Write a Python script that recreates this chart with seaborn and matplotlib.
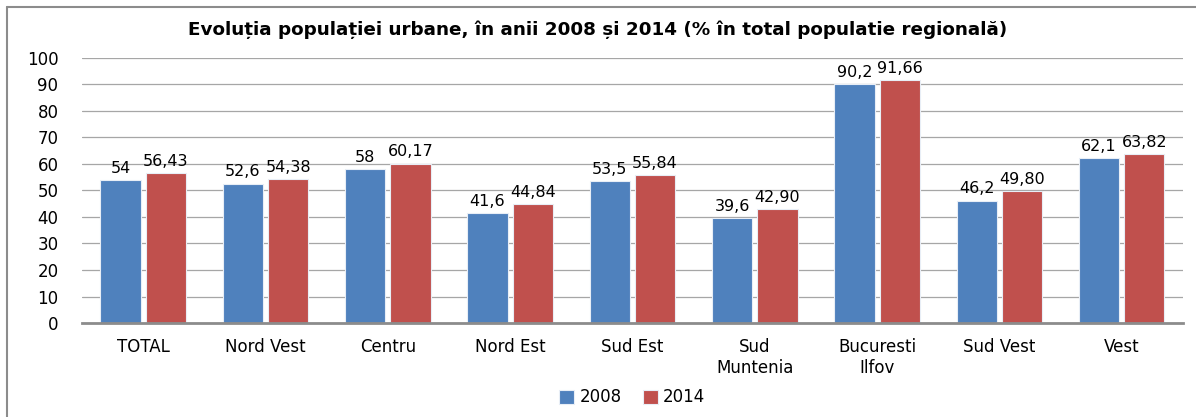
import pandas as pd
import matplotlib.pyplot as plt
import seaborn as sns
from matplotlib.lines import Line2D

regions = ["TOTAL", "Nord Vest", "Centru", "Nord Est", "Sud Est",
           "Sud\nMuntenia", "Bucuresti\nIlfov", "Sud Vest", "Vest"]
val_2008 = [54, 52.6, 58, 41.6, 53.5, 39.6, 90.2, 46.2, 62.1]
val_2014 = [56.43, 54.38, 60.17, 44.84, 55.84, 42.90, 91.66, 49.80, 63.82]
years = ["2008", "2014"]

df = pd.DataFrame({
    "Regiune": regions * 2,
    "An": [years[0]] * len(regions) + [years[1]] * len(regions),
    "Valoare": val_2008 + val_2014,
})

sns.set_style("white")
plt.rcParams["font.family"] = ["DejaVu Sans"]

fig = plt.figure(figsize=(11.96, 4.17), dpi=100)
ax = fig.add_axes([0.0686, 0.2254, 0.9204, 0.6356])

sns.barplot(
    data=df, x="Regiune", y="Valoare", hue="An",
    palette=["#4F81BD", "#C0504D"], saturation=1, width=0.74, gap=0.11,
    edgecolor="#e8eef6", linewidth=0.8, ax=ax, legend=True
)

# value labels
for cont, fmt in zip(ax.containers, ["g", ".2f"]):
    labels = [format(v, fmt).replace(".", ",") for v in cont.datavalues]
    ax.bar_label(cont, labels=labels, padding=3, fontsize=11.5, color="black")

ax.set_ylim(0, 100)
ax.set_yticks(range(0, 101, 10))
ax.set_xlim(-0.5, len(regions) - 0.5)
ax.yaxis.grid(True, color="#a6a6a6", linewidth=0.9)
ax.set_axisbelow(True)
for s in ["left", "right", "top"]:
    ax.spines[s].set_visible(False)
ax.spines["bottom"].set_color("#8c8c8c")
ax.spines["bottom"].set_linewidth(2)
ax.tick_params(axis="both", length=0, labelsize=12, colors="black")
ax.tick_params(axis="x", pad=11)
ax.tick_params(axis="y", pad=17)
ax.set_xlabel("")
ax.set_ylabel("")

leg = ax.legend(loc="upper center", bbox_to_anchor=(0.5, -0.19), ncol=2,
                frameon=False, fontsize=12, handlelength=0.9, handleheight=0.9,
                columnspacing=1.3, handletextpad=0.3, labelcolor="black")

fig.text(0.5, 0.928, "Evoluția populației urbane, în anii 2008 și 2014 (% în total populatie regională)",
         ha="center", va="center", fontsize=13.2, fontweight="bold", color="black")

# chart border
fig.add_artist(Line2D([0.006, 1.0], [0.983, 0.983], color="#8c8c8c", linewidth=1.5))
fig.add_artist(Line2D([0.006, 0.006], [0.0, 0.983], color="#8c8c8c", linewidth=1.5))

fig.savefig("out.png", dpi=100)
